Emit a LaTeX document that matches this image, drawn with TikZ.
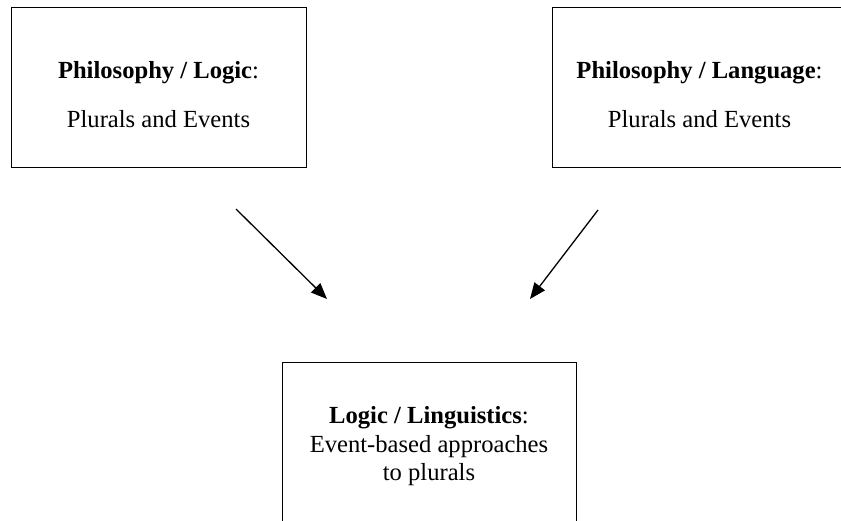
\documentclass[tikz,border=0pt]{standalone}
\usepackage{fontspec}
\setmainfont{Liberation Serif}
\usetikzlibrary{arrows.meta}
\begin{document}
\begin{tikzpicture}[x=0.5pt,y=-0.5pt,
  boxnode/.style={draw=black,line width=0.6pt,rectangle,inner sep=0pt,anchor=north west},
  txt/.style={anchor=base,inner sep=0pt,font=\fontsize{12.3}{14}\selectfont},
  arr/.style={line width=0.65pt,-{Triangle[length=8pt,width=6.5pt]}}]
\useasboundingbox (0,0) rectangle (841,520);
\clip (0,0) rectangle (841,520);
\fill[white] (0,0) rectangle (841,520);
% boxes
\node[boxnode,minimum width=147.5pt,minimum height=80pt] (pl) at (11,7) {};
\node[boxnode,minimum width=152pt,minimum height=80pt] (pg) at (552,7) {};
\node[boxnode,minimum width=147pt,minimum height=85pt] (ll) at (282,362) {};
% texts
\node[txt] (pl1) at (158.5,78) {\textbf{Philosophy / Logic}:};
\node[txt] (pl2) at (158.5,127) {Plurals and Events};
\node[txt] (pg1) at (699.5,78) {\textbf{Philosophy / Language}:};
\node[txt] (pg2) at (699.5,127) {Plurals and Events};
\node[txt] (ll1) at (429,423) {\textbf{Logic / Linguistics}:};
\node[txt] (ll2) at (429,452) {Event-based approaches};
\node[txt] (ll3) at (429,480) {to plurals};
% arrows
\coordinate (a1s) at (236,209);
\coordinate (a1e) at (327,299);
\coordinate (a2s) at (598,210);
\coordinate (a2e) at (530,299);
\draw[arr] (a1s) -- (a1e);
\draw[arr] (a2s) -- (a2e);
\end{tikzpicture}
\end{document}
